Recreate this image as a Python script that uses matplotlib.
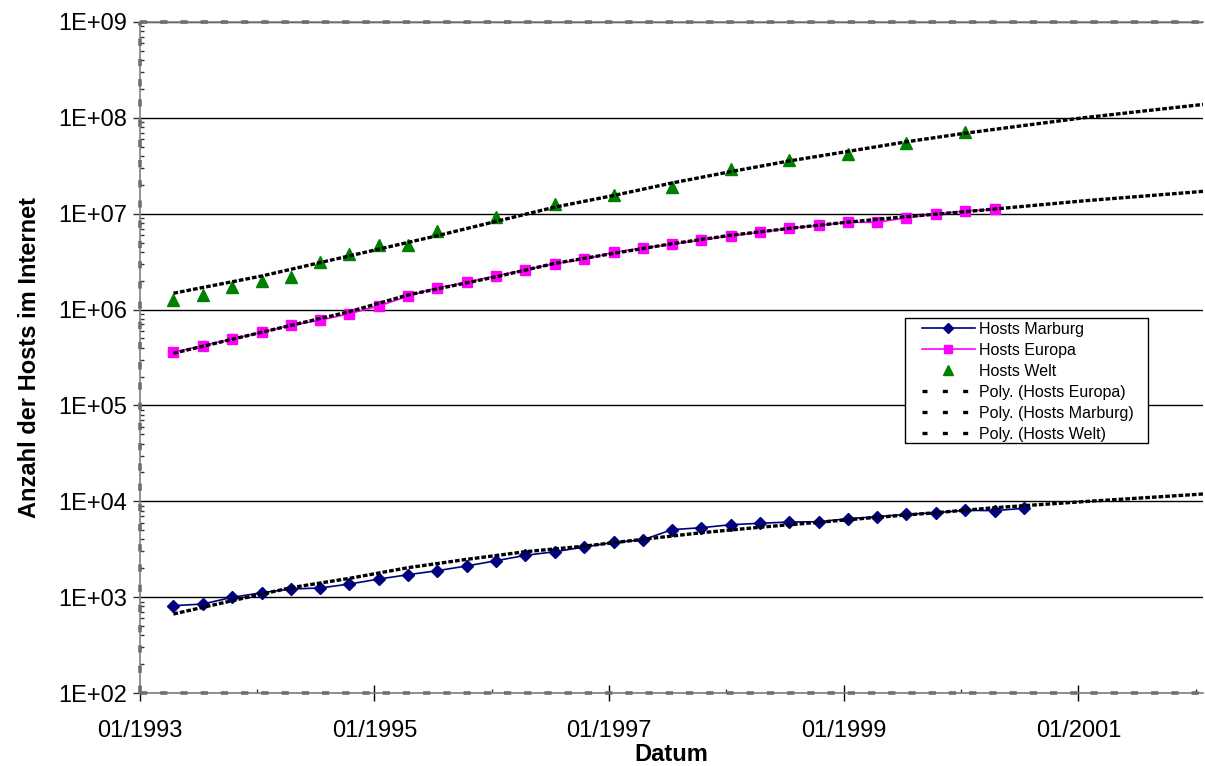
import matplotlib
matplotlib.use("Agg")
import matplotlib.pyplot as plt
import matplotlib.dates as mdates
from matplotlib.lines import Line2D
from matplotlib.patches import Rectangle
from matplotlib.ticker import FuncFormatter, LogLocator, NullFormatter
import numpy as np
import pandas as pd

plt.rcParams["font.family"] = ["Liberation Sans", "DejaVu Sans"]

# quarterly survey dates (mid-month), Apr 1993 .. Jul 2000
quarters = pd.date_range("1993-04-15", periods=30, freq=pd.DateOffset(months=3))

hosts_marburg = [815, 847, 995, 1112, 1216, 1245, 1370, 1545, 1713, 1887,
                 2113, 2399, 2730, 2976, 3333, 3733, 3943, 5058, 5300, 5700,
                 5890, 6080, 6120, 6580, 6900, 7310, 7600, 8050, 7980, 8450]

hosts_europa = [358e3, 420e3, 493e3, 579e3, 685e3, 773e3, 906e3, 1.09e6, 1.38e6, 1.69e6,
                1.92e6, 2.25e6, 2.59e6, 3.01e6, 3.34e6, 3.95e6, 4.38e6, 4.80e6, 5.32e6, 5.89e6,
                6.39e6, 7.04e6, 7.56e6, 8.13e6, 8.13e6, 9.08e6, 9.93e6, 10.7e6, 11.1e6]

welt_dates = pd.to_datetime([
    "1993-04-15", "1993-07-15", "1993-10-15", "1994-01-15", "1994-04-15",
    "1994-07-15", "1994-10-15", "1995-01-15", "1995-04-15", "1995-07-15",
    "1996-01-15", "1996-07-15", "1997-01-15", "1997-07-15", "1998-01-15",
    "1998-07-15", "1999-01-15", "1999-07-15", "2000-01-15"])
hosts_welt = [1.26e6, 1.43e6, 1.73e6, 2.0e6, 2.17e6, 3.13e6, 3.80e6, 4.75e6, 4.71e6, 6.6e6,
              9.3e6, 12.5e6, 15.8e6, 19.1e6, 29.3e6, 36.3e6, 42e6, 55e6, 71.6e6]

# polynomial trend lines (incl. forecast to 2002)
trend_welt_dates = pd.to_datetime([
    "1993-04-15", "1994-01-15", "1994-10-15", "1995-07-15", "1996-01-15", "1996-07-15",
    "1997-01-15", "1997-07-15", "1998-01-15", "1998-07-15", "1999-01-15", "1999-07-15",
    "2000-01-15", "2000-07-15", "2001-01-15", "2001-07-15", "2002-01-24"])
trend_welt = [1.48e6, 2.24e6, 3.63e6, 5.89e6, 8.32e6, 11.7e6, 15.5e6, 20.9e6, 27.5e6,
              35.5e6, 44.7e6, 56.2e6, 69.2e6, 83.2e6, 100e6, 117e6, 138e6]

trend_europa_dates = pd.to_datetime([
    "1993-04-15", "1994-01-15", "1994-10-15", "1995-04-15", "1996-01-15", "1996-07-15",
    "1997-01-15", "1997-07-15", "1998-01-15", "1998-07-15", "1999-01-15", "1999-07-15",
    "2000-01-15", "2001-01-15", "2002-01-24"])
trend_europa = [350e3, 580e3, 951e3, 1.42e6, 2.20e6, 3.03e6, 3.86e6, 4.86e6, 5.96e6,
                7.03e6, 8.18e6, 9.31e6, 10.5e6, 13.6e6, 17.1e6]

trend_marburg_dates = pd.to_datetime([
    "1993-04-15", "1993-10-15", "1994-04-15", "1994-10-15", "1995-04-15", "1995-10-15",
    "1996-04-15", "1996-10-15", "1997-04-15", "1997-10-15", "1998-04-15", "1998-10-15",
    "1999-04-15", "1999-10-15", "2000-04-15", "2001-01-15", "2002-01-24"])
trend_marburg = [667, 918, 1253, 1570, 2028, 2477, 2979, 3404, 4009, 4699, 5358, 6039,
                 6808, 7603, 8570, 9908, 11912]

major_years = [1993, 1995, 1997, 1999, 2001]
minor_years = [1994, 1996, 1998, 2000, 2002]

x_start, x_end = pd.Timestamp("1993-01-01"), pd.Timestamp("2002-01-24")

fig = plt.figure(figsize=(12.05, 7.66), dpi=100)
ax = fig.add_axes([140 / 1205, 1 - 693 / 766, 1063 / 1205, 671 / 766])

l_mar, = ax.plot(quarters[:len(hosts_marburg)], hosts_marburg, color="#000080", lw=1.2,
                 marker="D", ms=6.5, label="Hosts Marburg", zorder=3)
l_eur, = ax.plot(quarters[:len(hosts_europa)], hosts_europa, color="#FF00FF", lw=1.2,
                 marker="s", ms=7.5, label="Hosts Europa", zorder=3)
l_wel, = ax.plot(welt_dates, hosts_welt, color="#008000", lw=0, marker="^", ms=9,
                 label="Hosts Welt", zorder=3)

trend_kw = dict(color="black", lw=2.4, dashes=(1.4, 0.6), zorder=4)
ax.plot(trend_europa_dates, trend_europa, **trend_kw)
ax.plot(trend_marburg_dates, trend_marburg, **trend_kw)
ax.plot(trend_welt_dates, trend_welt, **trend_kw)

ax.set_yscale("log")
ax.set_ylim(1e2, 1e9)

ax.yaxis.set_major_locator(LogLocator(base=10, numticks=20))
ax.yaxis.set_minor_locator(LogLocator(base=10, subs=np.arange(2, 10), numticks=20))
ax.yaxis.set_major_formatter(FuncFormatter(lambda v, p: f"1E+{int(round(np.log10(v))):02d}"))
ax.yaxis.set_minor_formatter(NullFormatter())

ax.set_xticks([pd.Timestamp(f"{y}-01-01") for y in major_years])
ax.set_xticks([pd.Timestamp(f"{y}-01-01") for y in minor_years], minor=True)
ax.xaxis.set_major_formatter(mdates.DateFormatter("%m/%Y"))
ax.set_xlim(x_start, x_end)

ax.tick_params(axis="y", which="major", direction="out", length=5, width=1, color="#333333",
               labelsize=17, pad=4)
ax.tick_params(axis="y", which="minor", direction="in", length=3, width=1, color="#333333")
ax.tick_params(axis="x", which="major", direction="inout", length=11, width=1, color="black",
               labelsize=17, pad=14)
ax.tick_params(axis="x", which="minor", direction="in", length=3, width=1, color="#333333")

ax.grid(axis="y", which="major", color="black", lw=1)
ax.set_axisbelow(True)

ax.spines["right"].set_visible(False)
for side in ("left", "bottom", "top"):
    ax.spines[side].set_color("#808080")
    ax.spines[side].set_linewidth(1.2)

# dashed grey overlay on the axis lines
dash_kw = dict(transform=ax.transAxes, color="#6e6e6e", lw=2.6, dashes=(2.0, 3.6),
               clip_on=False, zorder=5)
ax.plot([0, 1], [0, 0], **dash_kw)
ax.plot([0, 1], [1, 1], **dash_kw)
ax.plot([0, 0], [0, 1], **dash_kw)

ax.set_xlabel("Datum", fontsize=17, fontweight="bold")
ax.xaxis.set_label_coords(0.5, -0.075)
ax.set_ylabel("Anzahl der Hosts im Internet", fontsize=17, fontweight="bold")
ax.yaxis.set_label_coords(-0.093, 0.5)

# legend frame drawn separately (wide side padding, tight top/bottom)
ax.add_patch(Rectangle((905 / 1205, 1 - 443 / 766), 243 / 1205, 125 / 766,
                       transform=fig.transFigure, facecolor="white", edgecolor="black",
                       lw=1, zorder=6, clip_on=False))

poly_kw = dict(color="black", lw=2.4, dashes=(1.5, 4.6))
handles = [l_mar, l_eur, l_wel,
           Line2D([], [], **poly_kw), Line2D([], [], **poly_kw), Line2D([], [], **poly_kw)]
labels = ["Hosts Marburg", "Hosts Europa", "Hosts Welt",
          "Poly. (Hosts Europa)", "Poly. (Hosts Marburg)", "Poly. (Hosts Welt)"]
leg = ax.legend(handles, labels, loc="upper left",
                bbox_to_anchor=((922 - 140) / 1063, (693 - 322) / 671),
                fontsize=11.5, frameon=False, borderaxespad=0,
                borderpad=0, handlelength=3.3, handletextpad=0.25, labelspacing=0.375,
                markerscale=0.8)
leg.set_zorder(7)

fig.savefig("out.png", dpi=100)
